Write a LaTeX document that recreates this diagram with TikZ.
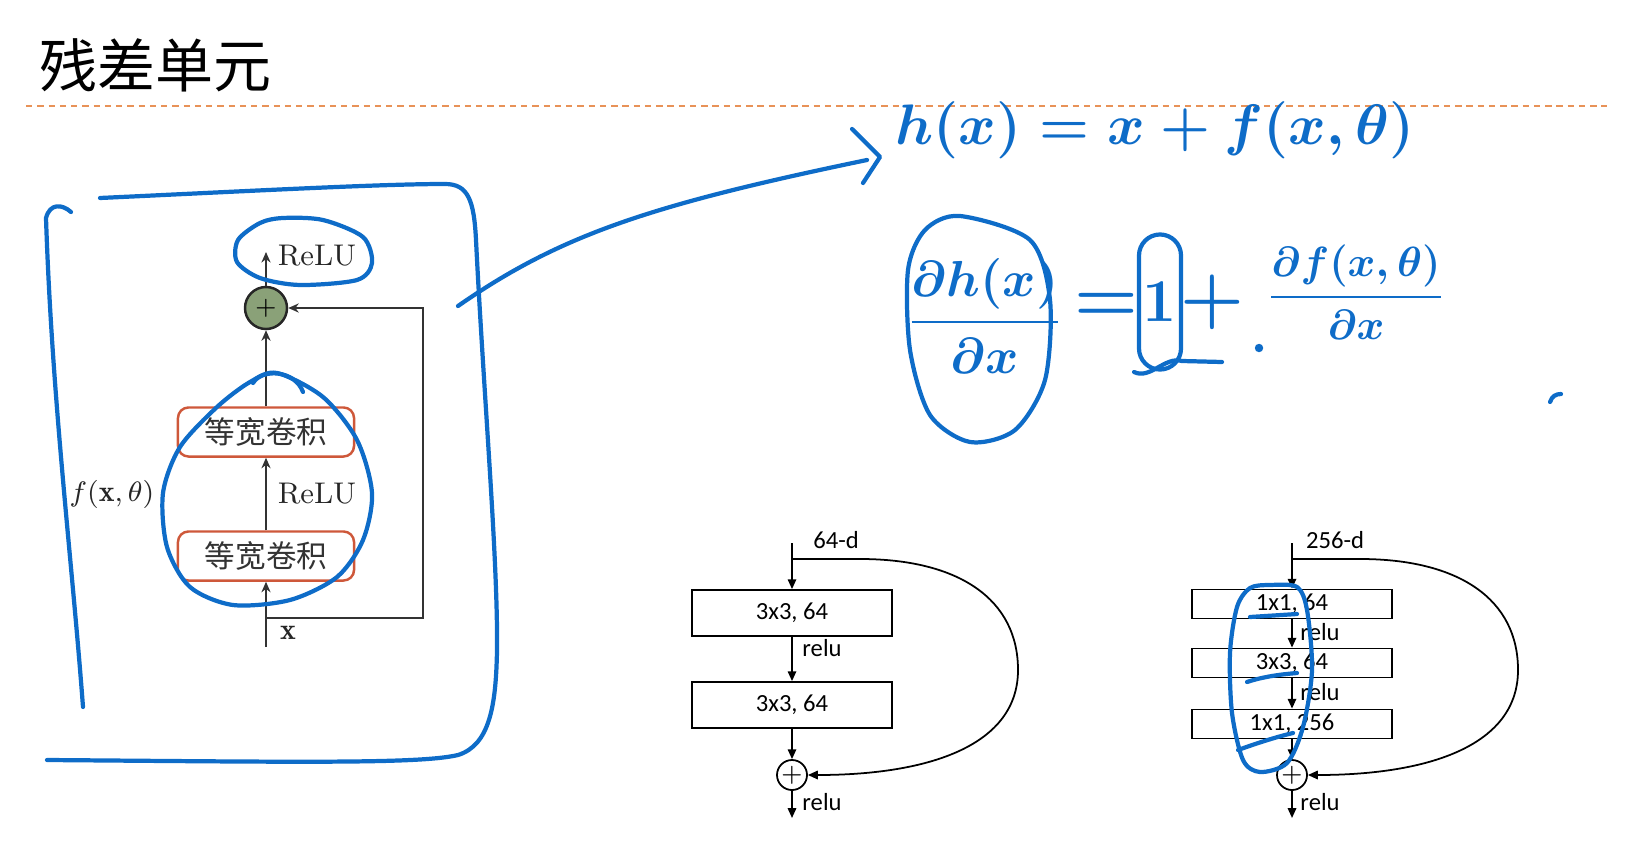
\documentclass[tikz,border=0pt]{standalone}
\usepackage{fontspec}
\usepackage{amsmath}
\newfontfamily\cjk{Noto Sans CJK SC}
\setsansfont{Carlito}
\usetikzlibrary{arrows.meta, positioning, calc}
\definecolor{inkblue}{RGB}{14, 108, 200}
\definecolor{convred}{RGB}{206, 88, 58}
\definecolor{sumgreen}{RGB}{138, 161, 120}
\definecolor{ruleorange}{RGB}{232, 146, 88}
\tikzset{
  convbox/.style={draw=convred, line width=0.7pt, rounded corners=3pt, minimum width=1.76cm, minimum height=0.49cm, inner sep=0pt, text=black!80, font=\cjk\fontsize{8.7}{9}\selectfont},
  sumnode/.style={circle, draw=black!85, line width=0.7pt, fill=sumgreen, minimum size=0.42cm, inner sep=0pt, font=\fontsize{7.5}{8}\selectfont},
  flow/.style={draw=black!80, line width=0.6pt, -{Stealth[length=3pt, width=2.6pt]}},
  lbl/.style={inner sep=0pt, text=black!85, font=\fontsize{8.5}{10}\selectfont},
  resbox/.style={draw, line width=0.5pt, minimum width=2cm, inner sep=0pt, font=\sffamily\fontsize{7}{8}\selectfont},
  ressum/.style={circle, draw, line width=0.5pt, minimum size=0.3cm, inner sep=0pt, font=\fontsize{7}{8}\selectfont},
  resflow/.style={line width=0.5pt, -{Triangle[length=2.8pt, width=2.4pt]}},
  reslbl/.style={inner sep=0pt, font=\sffamily\fontsize{7}{8}\selectfont},
  ink/.style={draw=inkblue, line width=1.2pt, line cap=round, line join=round},
  inktext/.style={text=inkblue, inner sep=0pt},
}
\begin{document}
\begin{tikzpicture}[x=0.01cm, y=-0.01cm]
  \useasboundingbox (0,0) rectangle (1631,867);

  % title and rule
  \node[anchor=west, inner sep=0pt, font=\cjk\fontsize{16.5}{18}\selectfont] (title) at (39,65) {残差单元};
  \draw[ruleorange, line width=0.5pt, dash pattern=on 1.8pt off 1.4pt] (26,106) -- (1607,106);

  % residual unit (left)
  \node[sumnode] (sum) at (266,308) {$+$};
  \node[convbox] (conv2) at (266,432) {等宽卷积};
  \node[convbox] (conv1) at (266,556) {等宽卷积};
  \coordinate (xin) at (266,647);
  \coordinate (skip) at (266,618);
  \coordinate (skipturn) at (423,308);
  \coordinate (out) at (266,252);
  \node[lbl] (relutop) at (317,256) {ReLU};
  \node[lbl] (relumid) at (317,494) {ReLU};
  \node[lbl] (xlab) at (288,633) {$\mathbf{x}$};
  \node[lbl] (flab) at (112,494) {$f(\mathbf{x},\theta)$};
  \draw[flow] (xin) -- (conv1);
  \draw[flow] (conv1) -- (conv2);
  \draw[flow] (conv2) -- (sum);
  \draw[flow] (sum) -- (out);
  \draw[flow] (skip) -| (skipturn) -- (sum);

  % plain block (64-d)
  \node[reslbl] (dimA) at (836,540) {64-d};
  \coordinate (inA) at (792,543);
  \coordinate (forkA) at (792,559);
  \node[resbox, minimum height=0.46cm] (a1) at (792,613) {3x3, 64};
  \node[resbox, minimum height=0.46cm] (a2) at (792,705) {3x3, 64};
  \node[ressum] (sumA) at (792,775) {$+$};
  \coordinate (outA) at (792,818);
  \node[reslbl] (reluA1) at (822,648) {relu};
  \node[reslbl] (reluA2) at (822,802) {relu};
  \draw[resflow] (inA) -- (a1);
  \draw[resflow] (a1) -- (a2);
  \draw[resflow] (a2) -- (sumA);
  \draw[resflow] (sumA) -- (outA);
  \draw[resflow] (forkA) -- ++(68,0) .. controls +(100,0) and (1018,600) .. (1018,670) .. controls (1018,745) and (930,775) .. (sumA);

  % bottleneck block (256-d)
  \node[reslbl] (dimB) at (1335,540) {256-d};
  \coordinate (inB) at (1292,543);
  \coordinate (forkB) at (1292,559);
  \node[resbox, minimum height=0.29cm] (b1) at (1292,604) {1x1, 64};
  \node[resbox, minimum height=0.29cm] (b2) at (1292,663) {3x3, 64};
  \node[resbox, minimum height=0.29cm] (b3) at (1292,724) {1x1, 256};
  \node[ressum] (sumB) at (1292,775) {$+$};
  \coordinate (outB) at (1292,818);
  \node[reslbl] (reluB1) at (1320,632) {relu};
  \node[reslbl] (reluB2) at (1320,692) {relu};
  \node[reslbl] (reluB3) at (1320,802) {relu};
  \draw[resflow] (inB) -- (b1);
  \draw[resflow] (b1) -- (b2);
  \draw[resflow] (b2) -- (b3);
  \draw[resflow] (b3) -- (sumB);
  \draw[resflow] (sumB) -- (outB);
  \draw[resflow] (forkB) -- ++(68,0) .. controls +(100,0) and (1518,600) .. (1518,670) .. controls (1518,745) and (1430,775) .. (sumB);

  % handwritten notes
  \draw[ink] (71,212) .. controls (62,204) and (50,203) .. (46,218) .. controls (52,400) and (72,560) .. (83,707);
  \draw[ink] (100,198) .. controls (250,191) and (380,184) .. (445,184) .. controls (468,184) and (474,200) .. (476,240) .. controls (484,400) and (498,560) .. (497,650) .. controls (496,705) and (490,745) .. (458,755) .. controls (420,764) and (300,762) .. (47,760);
  \draw[ink] plot[smooth cycle] coordinates {(283,218) (323,220) (363,237) (372,263) (357,280) (300,285) (260,278) (237,262) (238,240) (260,223)};
  \draw[ink] plot[smooth cycle] coordinates {(277,373) (323,397) (357,440) (372,493) (363,540) (337,577) (290,600) (233,605) (190,587) (167,547) (163,493) (180,447) (217,407) (250,382)};
  \draw[ink] (253,383) .. controls (262,368) and (295,370) .. (303,392);
  \coordinate (arrowstart) at (458,306);
  \coordinate (arrowtip) at (880,157);
  \draw[ink] (arrowstart) .. controls (560,235) and (650,205) .. (867,160);
  \draw[ink] (852,129) -- (arrowtip) -- (863,183);

  \node[inktext, font=\fontsize{18}{21}\selectfont\boldmath] (hx) at (1155,130) {\scalebox{0.94}{$h(x) = x + f(x,\theta)$}};
  \node[inktext, font=\fontsize{15}{18}\selectfont\boldmath] (dh) at (985,316) {$\dfrac{\partial h(x)}{\partial x}$};
  \draw[ink] plot[smooth cycle] coordinates {(960,216) (1030,240) (1050,300) (1045,380) (1015,430) (970,442) (930,415) (910,350) (908,270) (925,230)};
  \node[inktext, font=\fontsize{20}{22}\selectfont\boldmath] (eq) at (1106,307) {$=$};
  \node[inktext, draw=inkblue, line width=1.2pt, rounded corners=6pt, minimum width=0.42cm, minimum height=1.35cm, font=\fontsize{18}{20}\selectfont\boldmath] (one) at (1160,302) {$1$};
  \draw[ink] (1134,372) .. controls (1150,380) and (1165,356) .. (1182,361) -- (1222,362);
  \node[inktext, font=\fontsize{20}{22}\selectfont\boldmath] (plus) at (1212,302) {$+$};
  \fill[inkblue] (1259,348) circle (1.2pt);
  \node[inktext, font=\fontsize{13}{15}\selectfont\boldmath] (df) at (1356,292) {$\dfrac{\partial f(x,\theta)}{\partial x}$};
  \draw[ink] (1550,402) .. controls (1552,396) and (1556,394) .. (1561,394);

  \draw[ink] plot[smooth cycle] coordinates {(1270,585) (1297,587) (1307,610) (1312,670) (1303,727) (1287,763) (1260,772) (1243,760) (1232,713) (1230,653) (1237,607) (1250,588)};
  \draw[ink] (1250,617) -- (1297,614);
  \draw[ink] (1247,682) .. controls (1265,676) and (1285,674) .. (1297,673);
  \draw[ink] (1238,750) .. controls (1260,742) and (1280,736) .. (1293,733);
\end{tikzpicture}
\end{document}
